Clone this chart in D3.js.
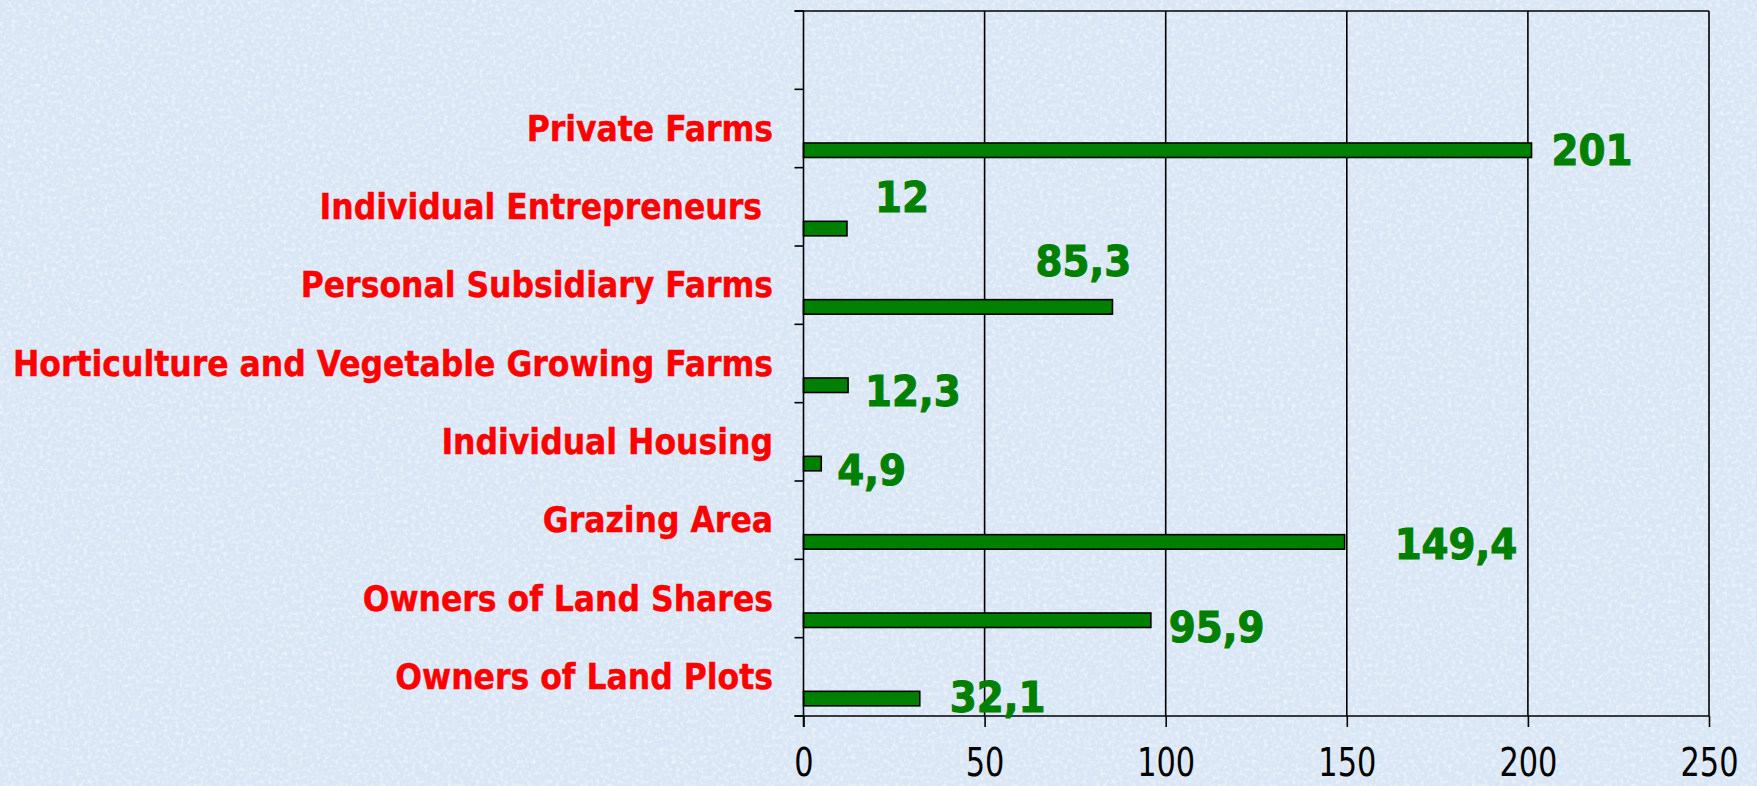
<!DOCTYPE html>
<html>
<head>
<meta charset="utf-8">
<script src="https://cdn.jsdelivr.net/npm/d3@7"></script>
<style>
  html, body { margin: 0; padding: 0; background: #dde8f5; }
  svg { display: block; }
  text { font-family: "DejaVu Sans", sans-serif; font-stretch: condensed; }
</style>
</head>
<body>
<svg id="chart" width="1757" height="786"></svg>
<script>
// ---- data ----
const categories = ["", "Private Farms", "Individual Entrepreneurs ", "Personal Subsidiary Farms",
  "Horticulture and Vegetable Growing Farms", "Individual Housing", "Grazing Area",
  "Owners of Land Shares", "Owners of Land Plots"];
const values = [null, 201, 12, 85.3, 12.3, 4.9, 149.4, 95.9, 32.1];
const valueLabels = ["", "201", "12", "85,3", "12,3", "4,9", "149,4", "95,9", "32,1"];
const xTicks = [0, 50, 100, 150, 200, 250];

// ---- layout (label nudges, px) ----
const labelDx = [0, 20, 28, -77, 17, 16, 50, 18, 30];
const labelDy = [0, 15, -17, -31, 21, 21, 17, 22, 13];

const W = 1757, H = 786;
const plot = { left: 803.5, right: 1709, top: 11, bottom: 716 };

const svg = d3.select("#chart");

// background with subtle texture
const defs = svg.append("defs");
const f = defs.append("filter").attr("id", "tex").attr("x", 0).attr("y", 0).attr("width", "100%").attr("height", "100%");
f.append("feTurbulence").attr("type", "fractalNoise").attr("baseFrequency", 0.25).attr("numOctaves", 2).attr("seed", 3).attr("result", "n");
f.append("feColorMatrix").attr("in", "n").attr("type", "matrix")
  .attr("values", "0 0 0 0 1  0 0 0 0 1  0 0 0 0 1  0 0 0 -2.2 1.25");
svg.append("rect").attr("width", W).attr("height", H).attr("fill", "#d9e6f5");
svg.append("rect").attr("width", W).attr("height", H).attr("filter", "url(#tex)").attr("opacity", 0.55);

const x = d3.scaleLinear().domain([0, 250]).range([plot.left, plot.right]);
const y = d3.scaleBand().domain(categories.map((c, i) => i)).range([plot.top, plot.bottom]).paddingInner(0).paddingOuter(0);
const bw = y.bandwidth();

const g = svg.append("g");

// vertical gridlines
g.selectAll("line.grid").data(xTicks.filter(t => t > 0)).join("line")
  .attr("x1", d => x(d)).attr("x2", d => x(d))
  .attr("y1", plot.top).attr("y2", plot.bottom)
  .attr("stroke", "#000").attr("stroke-width", 1.6);

// top border
g.append("line").attr("x1", plot.left - 9).attr("x2", x(250)).attr("y1", plot.top).attr("y2", plot.top)
  .attr("stroke", "#000").attr("stroke-width", 1.6);

// category ticks at band boundaries
const bounds = categories.map((c, i) => y(i)).concat([y(categories.length - 1) + bw]);
g.selectAll("line.ctick").data(bounds).join("line")
  .attr("x1", plot.left - 9).attr("x2", plot.left)
  .attr("y1", d => d).attr("y2", d => d)
  .attr("stroke", "#000").attr("stroke-width", 1.6);

// bars
const idx = values.map((v, i) => i).filter(i => values[i] != null);
g.selectAll("rect.bar").data(idx).join("rect")
  .attr("x", x(0))
  .attr("y", i => y(i) + bw * 0.685)
  .attr("width", i => x(values[i]) - x(0))
  .attr("height", bw * 0.185)
  .attr("fill", "#008000").attr("stroke", "#000").attr("stroke-width", 1.6);

// x axis
const xAxis = d3.axisBottom(x).tickValues(xTicks).tickSize(11).tickPadding(12).tickFormat(d3.format("d"));
const ax = svg.append("g").attr("transform", `translate(0,${plot.bottom})`).call(xAxis);
ax.select(".domain").attr("d", `M${plot.left - 9},0H${x(250)}`).attr("stroke", "#000").attr("stroke-width", 1.6);
ax.selectAll(".tick line").attr("stroke", "#000").attr("stroke-width", 1.6);
const tt = ax.selectAll(".tick text").attr("fill", "#000").attr("font-size", 39)
  .attr("y", 32).attr("dy", "0.71em")
  .style("font-family", "'DejaVu Sans', sans-serif").style("font-stretch", "condensed");

// y axis line
svg.append("line").attr("x1", plot.left).attr("x2", plot.left).attr("y1", plot.top).attr("y2", plot.bottom + 11)
  .attr("stroke", "#000").attr("stroke-width", 1.6);

// category labels
const cl = svg.append("g").selectAll("text").data(idx).join("text")
  .attr("x", 773).attr("y", i => y(i) + bw / 2)
  .attr("text-anchor", "end").attr("dominant-baseline", "central")
  .attr("fill", "#ff0000").attr("font-weight", "bold").attr("font-size", 30)
  .attr("stroke", "#ff0000").attr("stroke-width", 0.4)
  .style("white-space", "pre")
  .text(i => categories[i]);

// value labels
const vl = svg.append("g").selectAll("text").data(idx).join("text")
  .attr("x", i => x(values[i]) + labelDx[i])
  .attr("y", i => y(i) + bw * 0.685 + bw * 0.0925 + labelDy[i])
  .attr("fill", "#008000").attr("font-weight", "bold").attr("font-size", 40)
  .attr("stroke", "#008000").attr("stroke-width", 1)
  .text(i => valueLabels[i]);

// fit font sizes to reference text widths
function fit(sel, pick, target) {
  const node = sel.filter(pick).node();
  const w = node.getComputedTextLength();
  const fs = parseFloat(sel.attr("font-size"));
  sel.attr("font-size", fs * target / w);
}
fit(cl, i => i === 4, 760);
fit(vl, i => i === 1, 81);
// tick labels: tall, narrow digits -> horizontal squeeze
{
  const w = tt.filter(d => d === 250).node().getComputedTextLength();
  const sx = 58 / w;
  tt.attr("transform", `scale(${sx},1)`);
}
</script>
</body>
</html>
